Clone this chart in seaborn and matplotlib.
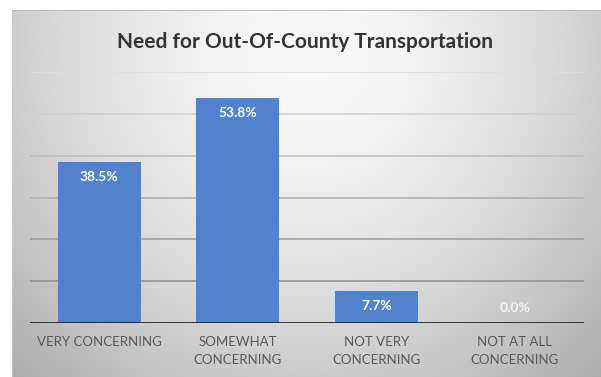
import numpy as np
import pandas as pd
import matplotlib
matplotlib.use("Agg")
import matplotlib.pyplot as plt
import seaborn as sns

# Survey results
categories = ["VERY CONCERNING", "SOMEWHAT\nCONCERNING", "NOT VERY\nCONCERNING", "NOT AT ALL\nCONCERNING"]
shares = [38.5, 53.8, 7.7, 0.0]
value_labels = ["38.5%", "53.8%", "7.7%", "0.0%"]
title = "Need for Out-Of-County Transportation"

df = pd.DataFrame({"category": categories, "share": shares})

sns.set_theme(style="white")
plt.rcParams["font.family"] = ["Lato", "DejaVu Sans"]

W, H = 601, 377
fig = plt.figure(figsize=(W / 100, H / 100), dpi=100)
fig.patch.set_facecolor("white")

# Soft radial backdrop of the chart panel
bg = fig.add_axes([12 / W, 0, (W - 12) / W, (H - 10) / H])
bg.set_axis_off()
ny, nx = 200, 320
yy, xx = np.mgrid[0:ny, 0:nx]
cx, cy = nx * 0.50, ny * 0.12
d = np.sqrt(((xx - cx) / (nx * 0.62)) ** 2 + ((yy - cy) / (ny * 1.05)) ** 2)
shade = 250 - 62 * np.clip(d, 0, 1.2) ** 1.6
shade = np.clip(shade, 170, 252) / 255.0
img = np.dstack([shade, shade, shade])
bg.imshow(img, aspect="auto", extent=[0, 1, 0, 1], interpolation="bilinear")
bg.set_xlim(0, 1)
bg.set_ylim(0, 1)
bg.plot([0, 1], [1, 1], color="#b8b8b8", lw=1.2, transform=bg.transAxes)
bg.plot([0, 0], [0, 1], color="#c8c8c8", lw=1.2, transform=bg.transAxes)

ax = fig.add_axes([30 / W, (H - 323) / H, (584 - 30) / W, (323 - 72) / H])
ax.patch.set_alpha(0)

sns.barplot(data=df, x="category", y="share", color="#5282CD", width=0.6,
            saturation=1, linewidth=0, edgecolor="none", ax=ax, zorder=3)

ax.set_ylim(0, 60)
ax.set_yticks([10, 20, 30, 40, 50, 60])
grid_colors = ["#8e8e8e", "#9c9c9c", "#acacac", "#bcbcbc", "#cfcfcf", "#dedede"]
for yv, c in zip([10, 20, 30, 40, 50, 60], grid_colors):
    ax.axhline(yv, color=c, lw=1.1, zorder=1)
ax.axhline(0, color="#262626", lw=2.0, zorder=4)

ax.set_yticklabels([])
ax.tick_params(axis="y", length=0)
ax.set_xticks(range(len(categories)))
ax.set_xticklabels([])
ax.tick_params(axis="x", length=0)
# Category names, centred line by line under each bar
xtrans = ax.get_xaxis_transform()
for i, name in enumerate(categories):
    ax.text(i, -0.053, name, transform=xtrans, ha="center", va="top",
            multialignment="center", linespacing=1.55,
            fontsize=9.5, color="#595959")
ax.set_xlabel("")
ax.set_ylabel("")
for s in ax.spines.values():
    s.set_visible(False)
ax.set_xlim(-0.5, 3.5)

for i, (v, lab) in enumerate(zip(shares, value_labels)):
    ypos = v - 3.7 if v > 7 else 3.7
    col = "white" if v > 0 else "#f4f4f4"
    ax.text(i, ypos, lab, ha="center", va="center", color=col,
            fontsize=10, fontweight="bold", zorder=5)

fig.text(305 / W, 1 - 42 / H, title, ha="center", va="center",
         fontsize=15, fontweight="bold", color="#333333")

fig.savefig("out.png", dpi=100)
